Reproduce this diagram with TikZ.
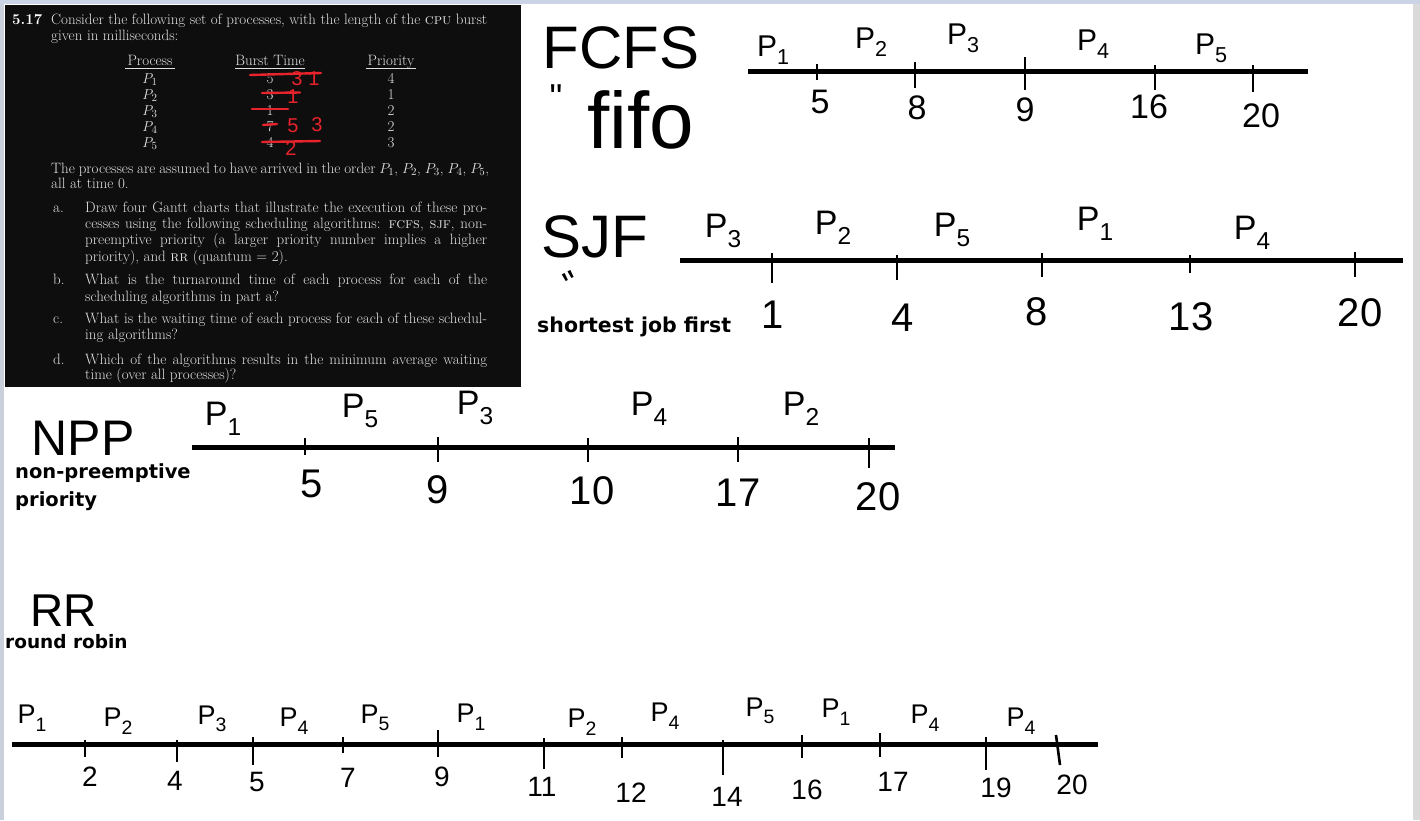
\documentclass[tikz,border=0pt]{standalone}
\usepackage{fontspec}
\newfontfamily\hand{Liberation Sans}
\newfontfamily\bsans{DejaVu Sans}
\definecolor{boxbg}{HTML}{0E0E0E}
\definecolor{boxtxt}{HTML}{E0E0E0}
\definecolor{redmark}{HTML}{E8232B}
\definecolor{topband}{HTML}{CBD4E4}
\definecolor{edgestrip}{HTML}{C9D0DC}
\definecolor{scroll}{HTML}{DADADA}
\newcommand\Pn[1]{P\raisebox{-0.28em}{\scalebox{0.72}{#1}}}
\tikzset{
  tline/.style={line width=5pt},
  tmark/.style={line width=2.6pt},
  btxt/.style={text=boxtxt, font=\fontsize{15}{17}\selectfont, anchor=base west, inner sep=0},
  bctr/.style={text=boxtxt, font=\fontsize{15}{17}\selectfont, anchor=base, inner sep=0},
  uline/.style={boxtxt, line width=0.7pt},
  redstk/.style={redmark, line width=2.4pt, line cap=round},
  redtxt/.style={text=redmark, font=\hand\fontsize{20}{20}\selectfont, inner sep=0},
  hbig/.style={font=\hand\fontsize{60}{62}\selectfont, inner sep=0},
  plab/.style={font=\hand\fontsize{30}{32}\selectfont, inner sep=0},
  plabl/.style={font=\hand\fontsize{34}{36}\selectfont, inner sep=0},
  plabs/.style={font=\hand\fontsize{27}{29}\selectfont, inner sep=0},
  num/.style={font=\hand\fontsize{34}{36}\selectfont, inner sep=0},
  numl/.style={font=\hand\fontsize{40}{42}\selectfont, inner sep=0},
  nums/.style={font=\hand\fontsize{28}{30}\selectfont, inner sep=0},
  blab/.style={font=\bsans\bfseries\fontsize{19.5}{22}\selectfont, anchor=west, inner sep=0},
}
\begin{document}
\begin{tikzpicture}[x=1pt,y=-1pt]
\useasboundingbox (0,0) rectangle (1420,820);
\fill[white] (0,0) rectangle (1420,820);
\fill[topband] (0,0) rectangle (1420,4);
\fill[edgestrip] (0,4) rectangle (4,820);
\fill[scroll] (1413,4) rectangle (1420,820);
\fill[boxbg] (5,5) rectangle (521,387);

% ---------- exercise text ----------
\node[btxt, text=white] (num) at (12,24) {\textbf{5.17}};
\node[btxt] (l1) at (51,24) {\makebox[436pt][s]{Consider the following set of processes, with the length of the \textsc{cpu} burst}};
\node[btxt] (l2) at (51,40) {given in milliseconds:};
\node[bctr] (hp) at (150,65) {Process};
\node[bctr] (hb) at (270,65) {Burst Time};
\node[bctr] (hr) at (391,65) {Priority};
\draw[uline] (125,68.5) -- (175,68.5);
\draw[uline] (235,68.5) -- (305,68.5);
\draw[uline] (366,68.5) -- (416,68.5);
\foreach \i/\yy/\bt/\pr in {1/83/5/4, 2/99/3/1, 3/115/1/2, 4/131/7/2, 5/147/4/3}{
  \node[bctr] (p\i) at (150,\yy) {$P_{\i}$};
  \node[bctr] (b\i) at (270,\yy) {\bt};
  \node[bctr] (r\i) at (391,\yy) {\pr};
}
% red annotations
\draw[redstk] (250,75) -- (321,73);
\node[redtxt] (ra1) at (297,79) {3};
\node[redtxt] (ra2) at (314,79) {1};
\draw[redstk] (262,93) -- (300,92.5);
\node[redtxt] (rb1) at (293,97) {1};
\draw[redstk] (252,109) -- (288,109);
\draw[redstk] (263,125) -- (277,124);
\node[redtxt] (rd1) at (293,126) {5};
\node[redtxt] (rd2) at (317,125) {3};
\draw[redstk] (262,142) -- (320,141);
\node[redtxt] (re1) at (291,149) {2};

\node[btxt] (l3) at (51,173) {\makebox[438pt][s]{The processes are assumed to have arrived in the order $P_1$, $P_2$, $P_3$, $P_4$, $P_5$,}};
\node[btxt] (l4) at (51,188) {all at time 0.};

\node[btxt] (ia) at (53,212) {a.};
\node[btxt] (a1) at (85,212) {\makebox[402pt][s]{Draw four Gantt charts that illustrate the execution of these pro-}};
\node[btxt] (a2) at (85,228) {\makebox[402pt][s]{cesses using the following scheduling algorithms: \textsc{fcfs}, \textsc{sjf}, non-}};
\node[btxt] (a3) at (85,244) {\makebox[402pt][s]{preemptive priority (a larger priority number implies a higher}};
\node[btxt] (a4) at (85,261) {priority), and \textsc{rr} (quantum = 2).};
\node[btxt] (ib) at (53,284) {b.};
\node[btxt] (b1t) at (85,284) {\makebox[402pt][s]{What is the turnaround time of each process for each of the}};
\node[btxt] (b2t) at (85,301) {scheduling algorithms in part a?};
\node[btxt] (ic) at (53,323) {c.};
\node[btxt] (c1t) at (85,323) {\makebox[402pt][s]{What is the waiting time of each process for each of these schedul-}};
\node[btxt] (c2t) at (85,339) {ing algorithms?};
\node[btxt] (id) at (53,364) {d.};
\node[btxt] (d1t) at (85,364) {\makebox[402pt][s]{Which of the algorithms results in the minimum average waiting}};
\node[btxt] (d2t) at (85,379) {time (over all processes)?};

% ---------- FCFS ----------
\node[hbig] (fcfs) at (621,48) {FCFS};
\node[font=\hand\fontsize{36}{36}\selectfont, inner sep=0] (fq) at (556,97) {\symbol{34}};
\node[font=\hand\fontsize{80}{82}\selectfont, inner sep=0] (fifo) at (641,120) {fifo};
\coordinate (fa) at (748,71); \coordinate (fb) at (1308,71);
\draw[tline] (fa) -- (fb);
\foreach \x/\a/\b in {817/64/80, 915/62/88, 1025/57/90, 1155/65/90, 1253/65/92}
  \draw[tmark] (\x,\a) -- (\x,\b);
\node[num] (f5) at (820,102) {5};
\node[num] (f8) at (917,108) {8};
\node[num] (f9) at (1025,110) {9};
\node[num] (f16) at (1149,107) {16};
\node[num] (f20) at (1261,116) {20};
\node[plab] (fp1) at (773,50) {\Pn{1}};
\node[plab] (fp2) at (871,42) {\Pn{2}};
\node[plab] (fp3) at (963,38) {\Pn{3}};
\node[plab] (fp4) at (1093,44) {\Pn{4}};
\node[plab] (fp5) at (1211,48) {\Pn{5}};

% ---------- SJF ----------
\node[hbig] (sjf) at (595,237) {SJF};
\node[font=\hand\fontsize{36}{36}\selectfont, inner sep=0, rotate=28] (sq) at (572,284) {\symbol{34}};
\node[blab, font=\bsans\bfseries\fontsize{20.5}{22}\selectfont] (sjft) at (537,327) {shortest job first};
\coordinate (sa) at (680,260); \coordinate (sb) at (1403,260);
\draw[tline] (sa) -- (sb);
\foreach \x/\a/\b in {772/253/283, 897/255/280, 1042/253/277, 1190/255/273, 1355/252/277}
  \draw[tmark] (\x,\a) -- (\x,\b);
\node[numl] (s1) at (773,315) {1};
\node[numl] (s4) at (903,318) {4};
\node[numl] (s8) at (1037,312) {8};
\node[numl] (s13) at (1191,317) {13};
\node[numl] (s20) at (1360,313) {20};
\node[plabl] (sp3) at (723,231) {\Pn{3}};
\node[plabl] (sp2) at (833,228) {\Pn{2}};
\node[plabl] (sp5) at (952,230) {\Pn{5}};
\node[plabl] (sp1) at (1095,224) {\Pn{1}};
\node[plabl] (sp4) at (1252,233) {\Pn{4}};

% ---------- NPP ----------
\node[font=\hand\fontsize{50}{52}\selectfont, inner sep=0, anchor=base, text depth=0pt] (npp) at (83,455) {NPP};
\node[blab] (nppt1) at (15,473) {non-preemptive};
\node[blab] (nppt2) at (15,501) {priority};
\coordinate (na) at (192,447); \coordinate (nb) at (895,447);
\draw[tline] (na) -- (nb);
\foreach \x/\a/\b in {305/438/455, 438/437/462, 588/438/462, 738/437/462, 869/438/468}
  \draw[tmark] (\x,\a) -- (\x,\b);
\node[numl] (n5) at (312,484) {5};
\node[numl] (n9) at (438,490) {9};
\node[numl] (n10) at (592,491) {10};
\node[numl] (n17) at (738,493) {17};
\node[numl] (n20) at (878,497) {20};
\node[plabl] (np1) at (223,419) {\Pn{1}};
\node[plabl] (np5) at (360,411) {\Pn{5}};
\node[plabl] (np3) at (475,408) {\Pn{3}};
\node[plabl] (np4) at (649,409) {\Pn{4}};
\node[plabl] (np2) at (801,409) {\Pn{2}};

% ---------- RR ----------
\node[font=\hand\fontsize{46}{48}\selectfont, inner sep=0, anchor=base, text depth=0pt] (rr) at (64,626) {RR};
\node[blab, font=\bsans\bfseries\fontsize{18.5}{20}\selectfont] (rrt) at (5,642) {round robin};
\coordinate (ra) at (12,744); \coordinate (rb) at (1098,744);
\draw[tline] (ra) -- (rb);
\foreach \x/\a/\b in {85/740/757, 177/740/762, 253/737/765, 343/737/753, 438/730/757, 544/738/769, 622/737/758, 723/740/775, 802/735/758, 880/733/757, 986/737/770}
  \draw[tmark] (\x,\a) -- (\x,\b);
\draw[tmark] (1056,735) -- (1060,765);
\node[nums] (r2) at (90,777) {2};
\node[nums] (r4) at (175,781) {4};
\node[nums] (r5) at (257,782) {5};
\node[nums] (r7) at (348,778) {7};
\node[nums] (r9) at (442,777) {9};
\node[nums] (r11) at (542,787) {11};
\node[nums] (r12) at (631,793) {12};
\node[nums] (r14) at (727,797) {14};
\node[nums] (r16) at (807,790) {16};
\node[nums] (r17) at (893,782) {17};
\node[nums] (r19) at (996,788) {19};
\node[nums] (r20) at (1072,785) {20};
\node[plabs] (rp1) at (32,718) {\Pn{1}};
\node[plabs] (rp2) at (118,721) {\Pn{2}};
\node[plabs] (rp3) at (212,719) {\Pn{3}};
\node[plabs] (rp4) at (294,721) {\Pn{4}};
\node[plabs] (rp5) at (375,718) {\Pn{5}};
\node[plabs] (rp1b) at (471,717) {\Pn{1}};
\node[plabs] (rp2b) at (582,722) {\Pn{2}};
\node[plabs] (rp4b) at (665,716) {\Pn{4}};
\node[plabs] (rp5b) at (760,711) {\Pn{5}};
\node[plabs] (rp1c) at (836,712) {\Pn{1}};
\node[plabs] (rp4c) at (925,718) {\Pn{4}};
\node[plabs] (rp4d) at (1021,721) {\Pn{4}};
\end{tikzpicture}
\end{document}
